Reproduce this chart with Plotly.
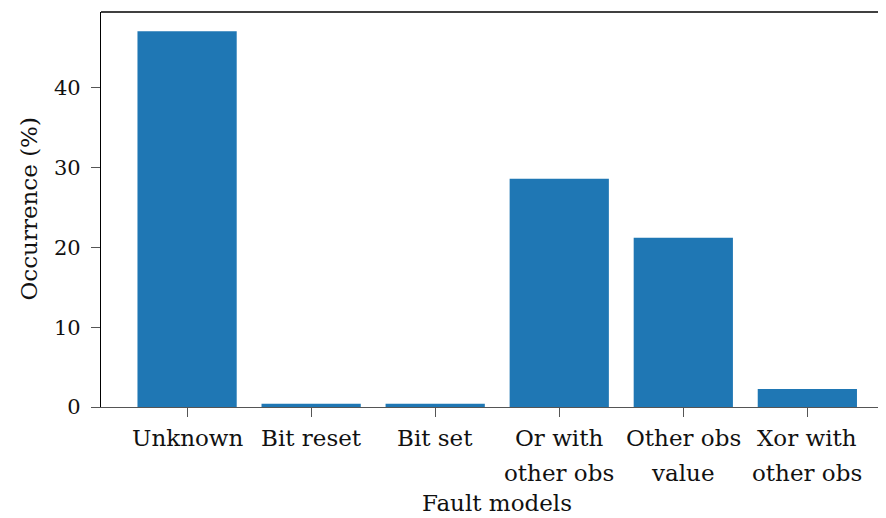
import plotly.graph_objects as go

categories = ["Unknown", "Bit reset", "Bit set", "Or with\nother obs", "Other obs\nvalue", "Xor with\nother obs"]
occurrence = [47.1, 0.4, 0.4, 28.6, 21.2, 2.25]
y_ticks = [0, 10, 20, 30, 40]

FONT = "DejaVu Serif"
FS = 23
FS_TICK = 21
x_pos = list(range(len(categories)))

fig = go.Figure(go.Bar(x=x_pos, y=occurrence, width=0.8, marker=dict(color="#1f77b4", line=dict(width=0))))

ann = []
for i, lab in enumerate(categories):
    for j, line in enumerate(lab.split("\n")):
        ann.append(dict(x=i, xref="x", y=0, yref="paper", yanchor="middle", showarrow=False,
                        text=line, yshift=-(31 + 35 * j), font=dict(family=FONT, size=FS, color="#111")))
ann.append(dict(x=2.5, xref="x", y=0, yref="paper", yanchor="middle", showarrow=False,
                text="Fault models", yshift=-96, font=dict(family=FONT, size=FS, color="#111")))
ann.append(dict(x=0, xref="paper", y=0.5, yref="paper", xanchor="center", yanchor="middle", showarrow=False,
                text="Occurrence (%)", textangle=-90, xshift=-73, font=dict(family=FONT, size=FS, color="#111")))

# page body has an 8px margin: size the figure so the plot area lands where the reference has it
fig.update_layout(
    width=878, height=510,
    margin=dict(l=93, r=0, t=4, b=111),
    paper_bgcolor="white", plot_bgcolor="white",
    showlegend=False,
    font=dict(family=FONT, size=FS, color="#111"),
    xaxis=dict(range=[-0.694, 5.634], tickvals=x_pos, showticklabels=False,
               ticks="outside", ticklen=9, tickwidth=1.3, tickcolor="#555",
               showline=True, linecolor="#555", linewidth=1.3, showgrid=False, zeroline=False),
    yaxis=dict(range=[0, 49.5], tickvals=y_ticks, ticks="outside", ticklen=9, tickwidth=1.3,
               tickcolor="#555", showline=True, linecolor="black", linewidth=1.3,
               showgrid=False, zeroline=False, tickfont=dict(family=FONT, size=FS_TICK, color="#111"),
               ticklabelstandoff=6),
    shapes=[dict(type="line", xref="paper", yref="paper", x0=0, x1=1, y0=1, y1=1,
                 line=dict(color="black", width=1.3))],
    annotations=ann,
)

fig.write_html("out.html")
